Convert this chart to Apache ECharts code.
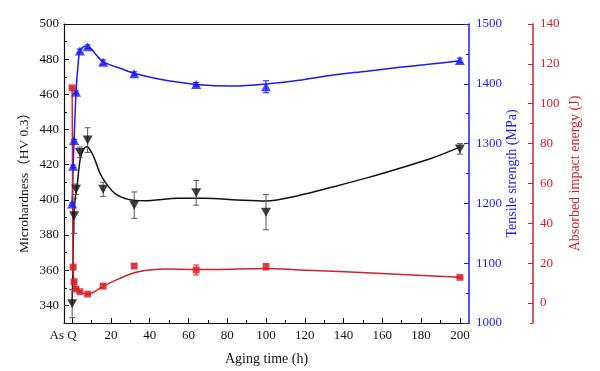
<!DOCTYPE html>
<html>
<head>
<meta charset="utf-8">
<script src="https://cdn.jsdelivr.net/npm/echarts@6/dist/echarts.min.js"></script>
<style>html,body{margin:0;padding:0;background:#fff}#c{width:600px;height:371px}</style>
</head>
<body>
<div id="c"></div>
<script>
// ---- data ----
const xTickLabels = [0, 20, 40, 60, 80, 100, 120, 140, 160, 180, 200];
const xMinorTicks = [10, 30, 50, 70, 90, 110, 130, 150, 170, 190];
const hvTickLabels = [340, 360, 380, 400, 420, 440, 460, 480, 500];
const hvMinorTicks = [330, 350, 370, 390, 410, 430, 450, 470, 490];
const tsTickLabels = [1000, 1100, 1200, 1300, 1400, 1500];
const tsMinorTicks = [1050, 1150, 1250, 1350, 1450];
const ieTickLabels = [0, 20, 40, 60, 80, 100, 120, 140];
const ieMinorTicks = [-10, 10, 30, 50, 70, 90, 110, 130];

// Microhardness (HV 0.3)
const hvTime  = [0, 1, 2, 4, 8, 16, 32, 64, 100, 200];
const hvValue = [341, 391, 406, 427, 434, 406, 397, 404, 393, 429];
const hvError = [8, 10, 3, 3, 7, 4, 7.5, 7, 10, 3];
const hvFitTime  = [0, 0.4, 0.8, 1.5, 2.5, 4.2, 6, 7.5, 9.5, 11.8, 14, 16.9, 22, 28.9, 37.5, 54.7, 68.5, 85, 100, 117, 135, 152, 169, 185, 200];
const hvFitValue = [341, 360, 388, 400, 407.5, 423.5, 429, 430.2, 428, 422.7, 416, 410.3, 403.7, 400.3, 399.5, 400.9, 400.9, 400, 399.4, 402.5, 407.5, 412.5, 418, 423.5, 430];

// Tensile strength (MPa)
const tsTime  = [0, 0.5, 1, 2, 4, 8, 16, 32, 64, 100, 200];
const tsValue = [1199, 1262, 1305, 1386, 1455, 1462, 1436, 1417, 1399, 1395, 1439];
const tsError = [2, 2, 2, 2, 3, 3, 4, 3, 3, 10, 4];
const tsFitTime  = [0, 0.5, 1, 2, 3, 4, 6, 8, 12, 16, 24.7, 32, 45.3, 64, 83, 100, 117, 134.7, 152, 169, 185, 200];
const tsFitValue = [1199, 1262, 1305, 1386, 1430, 1455, 1462, 1463, 1450, 1436.5, 1426, 1417.5, 1407.5, 1399, 1396.3, 1399.7, 1406, 1414.7, 1421, 1427.6, 1433, 1438.6];

// Absorbed impact energy (J)
const ieTime  = [0, 0.5, 1, 2, 4, 8, 16, 32, 64, 100, 200];
const ieValue = [108, 18, 10.7, 7, 5.7, 4.5, 8.5, 18.6, 16.6, 18.2, 12.9];
const ieError = [0.5, 0.5, 0.5, 0.5, 0.5, 0.5, 1, 1, 2.5, 1.5, 0.5];
const ieFitTime  = [0, 0.25, 0.5, 1, 2, 4, 8, 12, 16, 24.7, 32, 40, 48.7, 64, 76, 90, 100, 117.5, 151.9, 200];
const ieFitValue = [108, 60, 18, 10.7, 7, 5.5, 4.5, 6, 8.5, 12.4, 15.2, 16.6, 17.1, 16.9, 16.9, 17.2, 17.4, 16.6, 15.2, 12.9];

// ---- styles ----
const FONT = "'Liberation Serif', 'Noto Sans CJK SC', serif";
const BLACK = '#111111', BLUE = '#1a1aff', RED = '#d42028', EBLACK = '#555555';

function zip(a, b, c) { return a.map((v, i) => c ? [v, b[i], c[i]] : [v, b[i]]); }

function errRender(color) {
  return function (params, api) {
    const x = api.value(0), y = api.value(1), e = api.value(2);
    const top = api.coord([x, y + e]);
    const bot = api.coord([x, y - e]);
    const h = 3;
    const st = { stroke: color, lineWidth: 1 };
    return {
      type: 'group',
      children: [
        { type: 'line', shape: { x1: top[0], y1: top[1], x2: bot[0], y2: bot[1] }, style: st },
        { type: 'line', shape: { x1: top[0] - h, y1: top[1], x2: top[0] + h, y2: top[1] }, style: st },
        { type: 'line', shape: { x1: bot[0] - h, y1: bot[1], x2: bot[0] + h, y2: bot[1] }, style: st }
      ]
    };
  };
}

const XMIN = -4.2, XMAX = 204.7;
const plain = v => String(v);

function minorX(pos) {
  return { type: 'value', min: XMIN, max: XMAX, position: pos, show: true,
    axisLine: { show: false, onZero: false }, splitLine: { show: false }, axisLabel: { show: false },
    axisTick: { show: true, inside: true, length: 3, customValues: xMinorTicks, lineStyle: { color: BLACK } } };
}
function minorY(min, max, pos, offset, ticks, color) {
  return { type: 'value', min: min, max: max, position: pos, offset: offset,
    axisLine: { show: false, onZero: false }, splitLine: { show: false }, axisLabel: { show: false },
    axisTick: { show: true, inside: true, length: 3, customValues: ticks, lineStyle: { color: color } } };
}

const option = {
  animation: false,
  backgroundColor: '#ffffff',
  textStyle: { fontFamily: FONT },
  grid: { left: 64, right: 131, top: 24, bottom: 48, containLabel: false },
  xAxis: [
    { type: 'value', min: XMIN, max: XMAX, position: 'bottom',
      name: 'Aging time (h)', nameLocation: 'middle', nameGap: 29, nameMoveOverlap: false,
      nameTextStyle: { fontFamily: FONT, fontSize: 14, color: BLACK },
      axisLine: { show: true, onZero: false, lineStyle: { color: BLACK, width: 1.2 } },
      splitLine: { show: false },
      axisTick: { show: true, inside: true, length: 5, customValues: xTickLabels, lineStyle: { color: BLACK } },
      axisLabel: { show: true, margin: 6, fontFamily: FONT, fontSize: 13, color: BLACK,
        customValues: xTickLabels,
        formatter: v => v === 0 ? '{q|As Q}' : String(v),
        rich: { q: { fontFamily: FONT, fontSize: 13, color: BLACK, padding: [0, 18, 0, 0] } } } },
    minorX('bottom'),
    { type: 'value', min: XMIN, max: XMAX, position: 'top',
      axisLine: { show: true, onZero: false, lineStyle: { color: BLACK, width: 1.2 } },
      splitLine: { show: false }, axisTick: { show: false }, axisLabel: { show: false } }
  ],
  yAxis: [
    { type: 'value', min: 330, max: 500, position: 'left',
      name: 'Microhardness（HV 0.3）', nameLocation: 'middle', nameGap: 33, nameRotate: 90, nameMoveOverlap: false,
      nameTextStyle: { fontFamily: FONT, fontSize: 13.5, color: BLACK, padding: [0, 12, 0, 0] },
      axisLine: { show: true, onZero: false, lineStyle: { color: BLACK, width: 1.2 } },
      splitLine: { show: false },
      axisTick: { show: true, inside: true, length: 5, customValues: hvTickLabels, lineStyle: { color: BLACK } },
      axisLabel: { show: true, margin: 5, fontFamily: FONT, fontSize: 13, color: BLACK, customValues: hvTickLabels, formatter: plain } },
    minorY(330, 500, 'left', 0, hvMinorTicks, BLACK),
    { type: 'value', min: 1000, max: 1500, position: 'right', offset: 0,
      name: 'Tensile strength (MPa)', nameLocation: 'middle', nameGap: 36, nameRotate: 90, nameMoveOverlap: false,
      nameTextStyle: { fontFamily: FONT, fontSize: 14, color: BLUE },
      axisLine: { show: true, onZero: false, lineStyle: { color: BLUE, width: 1.5 } },
      splitLine: { show: false },
      axisTick: { show: true, inside: true, length: 5, customValues: tsTickLabels, lineStyle: { color: BLUE } },
      axisLabel: { show: true, margin: 7, fontFamily: FONT, fontSize: 13, color: BLUE, customValues: tsTickLabels, formatter: plain } },
    minorY(1000, 1500, 'right', 0, tsMinorTicks, BLUE),
    { type: 'value', min: -10, max: 140, position: 'right', offset: 64,
      name: 'Absorbed impact energy (J)', nameLocation: 'middle', nameGap: 35, nameRotate: 90, nameMoveOverlap: false,
      nameTextStyle: { fontFamily: FONT, fontSize: 14, color: RED },
      axisLine: { show: true, onZero: false, lineStyle: { color: RED, width: 1.5 } },
      splitLine: { show: false },
      axisTick: { show: true, inside: true, length: 5, customValues: ieTickLabels, lineStyle: { color: RED } },
      axisLabel: { show: true, margin: 7, fontFamily: FONT, fontSize: 13, color: RED, customValues: ieTickLabels, formatter: plain } },
    minorY(-10, 140, 'right', 64, ieMinorTicks, RED)
  ],
  series: [
    { type: 'line', xAxisIndex: 0, yAxisIndex: 0, data: zip(hvFitTime, hvFitValue), smooth: 0.3,
      showSymbol: false, lineStyle: { color: BLACK, width: 1.5 }, z: 2 },
    { type: 'line', xAxisIndex: 0, yAxisIndex: 2, data: zip(tsFitTime, tsFitValue), smooth: 0.3,
      showSymbol: false, lineStyle: { color: BLUE, width: 1.5 }, z: 2 },
    { type: 'line', xAxisIndex: 0, yAxisIndex: 4, data: zip(ieFitTime, ieFitValue), smooth: 0.3,
      showSymbol: false, lineStyle: { color: RED, width: 1.5 }, z: 2 },
    { type: 'custom', xAxisIndex: 0, yAxisIndex: 0, data: zip(hvTime, hvValue, hvError),
      encode: { x: 0, y: 1 }, renderItem: errRender(EBLACK), z: 3 },
    { type: 'custom', xAxisIndex: 0, yAxisIndex: 2, data: zip(tsTime, tsValue, tsError),
      encode: { x: 0, y: 1 }, renderItem: errRender(BLUE), z: 3 },
    { type: 'custom', xAxisIndex: 0, yAxisIndex: 4, data: zip(ieTime, ieValue, ieError),
      encode: { x: 0, y: 1 }, renderItem: errRender(RED), z: 3 },
    { type: 'scatter', xAxisIndex: 0, yAxisIndex: 0, data: zip(hvTime, hvValue),
      symbol: 'triangle', symbolRotate: 180, symbolSize: [10, 9], itemStyle: { color: BLACK }, z: 4 },
    { type: 'scatter', xAxisIndex: 0, yAxisIndex: 2, data: zip(tsTime, tsValue),
      symbol: 'triangle', symbolSize: [10, 9], itemStyle: { color: BLUE }, z: 4 },
    { type: 'scatter', xAxisIndex: 0, yAxisIndex: 4, data: zip(ieTime, ieValue),
      symbol: 'rect', symbolSize: 7, itemStyle: { color: RED }, z: 4 }
  ]
};

const chart = echarts.init(document.getElementById('c'), null, { renderer: 'canvas' });
chart.setOption(option);
</script>
</body>
</html>
